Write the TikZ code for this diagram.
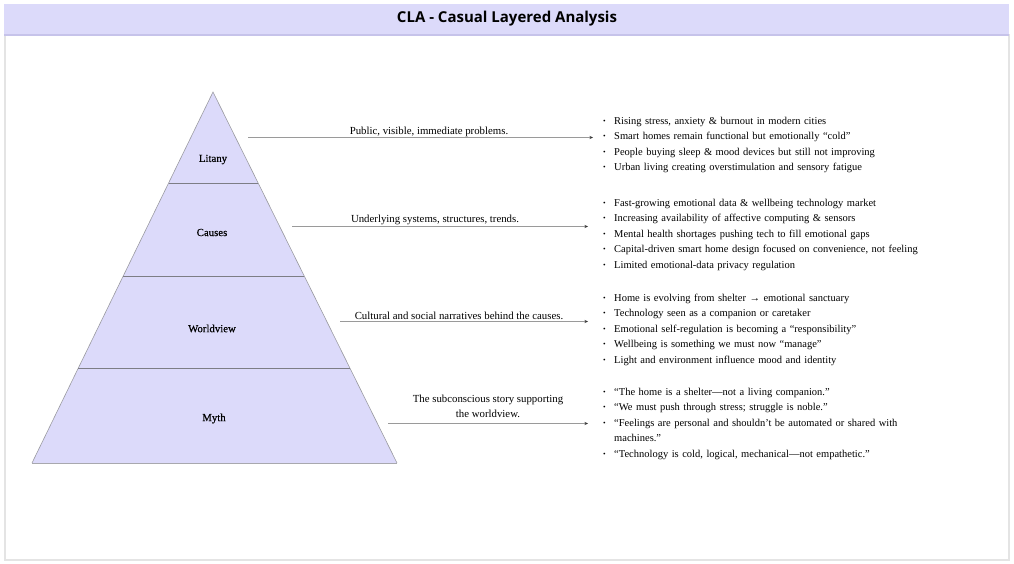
\documentclass[tikz,border=0pt]{standalone}
\usepackage{fontspec}
\setmainfont{Liberation Serif}
\newfontfamily\titlefont{Open Sans}
\newfontfamily\semib[FakeBold=0.5]{Liberation Serif}
\usetikzlibrary{arrows.meta}
\definecolor{lav}{HTML}{DCDAFA}
\definecolor{lavline}{HTML}{C6C3EA}
\definecolor{framegray}{HTML}{E4E4E4}
\definecolor{edgegray}{HTML}{6E6E78}
\definecolor{arrowgray}{HTML}{9A9A9A}
\newcommand{\bl}[1]{\noindent\hangindent=11pt\hangafter=1\makebox[11pt][l]{\raisebox{0.8pt}{\scalebox{0.7}{\textbullet}}}#1\par}
\tikzset{
  layerlabel/.style={font=\semib\fontsize{10.8}{12}\selectfont, text=black, inner sep=0pt},
  desc/.style={font=\fontsize{10.8}{12}\selectfont, text=black, inner sep=1pt, align=center},
  bullets/.style={font=\fontsize{10.5}{15.5}\selectfont, text=black, inner sep=0pt, text width=360pt, align=left, anchor=north west},
  connector/.style={draw=arrowgray, line width=0.7pt, -{Stealth[length=3.5pt,width=3pt,color=black!80]}},
  divider/.style={draw=edgegray!90, line width=0.8pt}
}
\begin{document}
\begin{tikzpicture}[x=1pt,y=-1pt]
\useasboundingbox (0,0) rectangle (1014,564);
% frame
\draw[framegray, line width=2pt] (4.5,34) -- (4.5,559.5) -- (1008.5,559.5) -- (1008.5,34);
\fill[lav] (4,4) rectangle (1009,35);
\draw[lavline, line width=2pt] (4,35) -- (1009,35);
\node[font=\titlefont\bfseries\fontsize{15}{17}\selectfont, inner sep=0pt] (title) at (507,19) {CLA - Casual Layered Analysis};
% pyramid
\coordinate (apex) at (213,92);
\coordinate (bl) at (32,463);
\coordinate (br) at (397,463);
\fill[lav] (apex) -- (br) -- (bl) -- cycle;
\draw[edgegray!70, line width=0.6pt] (bl) -- (apex) -- (br);
\draw[edgegray!60, line width=0.8pt] (bl) -- (br);
\path (apex) -- (bl) coordinate[pos=91/371] (d1l) coordinate[pos=184/371] (d2l) coordinate[pos=276/371] (d3l);
\path (apex) -- (br) coordinate[pos=91/371] (d1r) coordinate[pos=184/371] (d2r) coordinate[pos=276/371] (d3r);
\draw[divider] (d1l) -- (d1r);
\draw[divider] (d2l) -- (d2r);
\draw[divider] (d3l) -- (d3r);
\node[layerlabel] (litany) at (213,159.5) {Litany};
\node[layerlabel] (causes) at (212,232.5) {Causes};
\node[layerlabel] (worldview) at (212,328.5) {Worldview};
\node[layerlabel] (myth) at (214,418.5) {Myth};
% arrows
\coordinate (a1s) at (248,137.5); \coordinate (a1e) at (593,137.5);
\coordinate (a2s) at (292,226.5); \coordinate (a2e) at (588,226.5);
\coordinate (a3s) at (340,321.5); \coordinate (a3e) at (588,321.5);
\coordinate (a4s) at (388,423.5); \coordinate (a4e) at (588,423.5);
\draw[connector] (a1s) -- (a1e);
\draw[connector] (a2s) -- (a2e);
\draw[connector] (a3s) -- (a3e);
\draw[connector] (a4s) -- (a4e);
\node[desc] (d1) at (429,131.5) {Public, visible, immediate problems.};
\node[desc] (d2) at (435,220) {Underlying systems, structures, trends.};
\node[desc] (d3) at (459,316) {Cultural and social narratives behind the causes.};
\node[desc, font=\fontsize{10.8}{15}\selectfont] (d4) at (488,406) {The subconscious story supporting\\the worldview.};
% bullet lists
\node[bullets] (l1) at (603,113) {\strut\bl{Rising stress, anxiety \& burnout in modern cities}\bl{Smart homes remain functional but emotionally “cold”}\bl{People buying sleep \& mood devices but still not improving}\bl{Urban living creating overstimulation and sensory fatigue}};
\node[bullets] (l2) at (603,195) {\strut\bl{Fast-growing emotional data \& wellbeing technology market}\bl{Increasing availability of affective computing \& sensors}\bl{Mental health shortages pushing tech to fill emotional gaps}\bl{Capital-driven smart home design focused on convenience, not feeling}\bl{Limited emotional-data privacy regulation}};
\node[bullets] (l3) at (603,290) {\strut\bl{Home is evolving from shelter → emotional sanctuary}\bl{Technology seen as a companion or caretaker}\bl{Emotional self-regulation is becoming a “responsibility”}\bl{Wellbeing is something we must now “manage”}\bl{Light and environment influence mood and identity}};
\node[bullets] (l4) at (603,384) {\strut\bl{“The home is a shelter—not a living companion.”}\bl{“We must push through stress; struggle is noble.”}\bl{“Feelings are personal and shouldn’t be automated or shared with\newline machines.”}\bl{“Technology is cold, logical, mechanical—not empathetic.”}};
\end{tikzpicture}
\end{document}
